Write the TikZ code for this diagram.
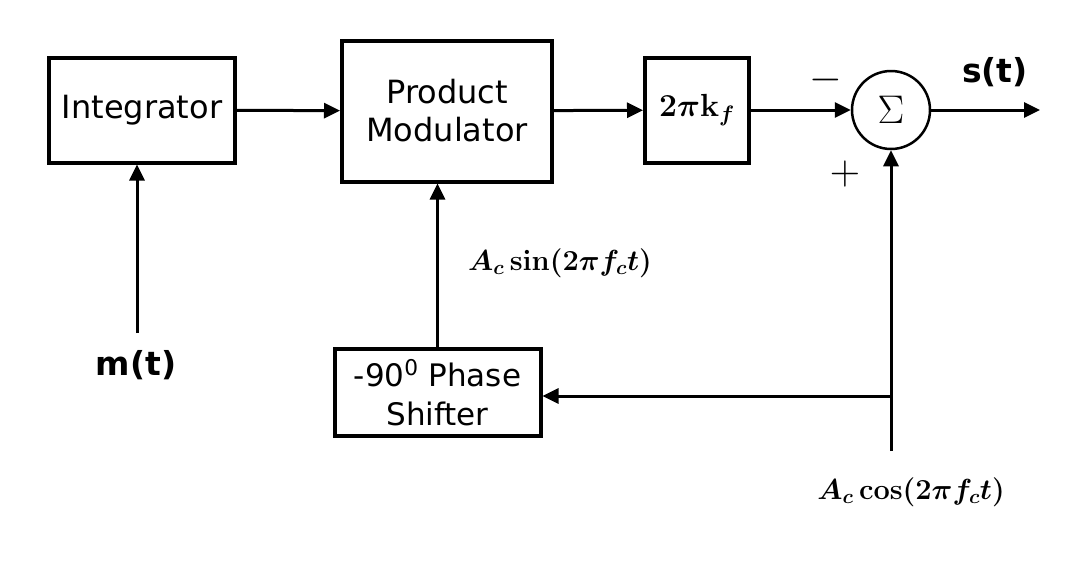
\RequirePackage{fix-cm}
\documentclass[tikz,border=0pt]{standalone}
\usepackage{amsmath}
\usepackage[no-math]{fontspec}
\setmainfont{DejaVu Sans}
\usetikzlibrary{arrows.meta}

\begin{document}
\begin{tikzpicture}[x=1pt, y=-1pt,
    block/.style={draw, line width=4pt, inner sep=0pt, align=center,
                  font=\fontsize{32}{38}\selectfont},
    sig/.style={line width=3pt, -{Triangle[length=16pt,width=15pt]}},
    wire/.style={line width=3pt}]
    \useasboundingbox (0, 0) rectangle (1078, 560);

    % Integrator and product modulator
    \node [block, minimum width=186pt, minimum height=105pt] (integ) at (142, 110) {Integrator};
    \node [block, minimum width=210pt, minimum height=141pt] (prodmod) at (447, 111) {Product\\Modulator};

    % 2 pi k_f
    \node [block, minimum width=104pt, minimum height=105pt,
           font=\fontsize{32}{36}\selectfont] (gain) at (697, 110) {$\boldsymbol{2\pi\mathrm{k}_f}$};

    % Summer
    \node [draw, circle, line width=2.5pt, minimum size=78pt, inner sep=0pt,
           font=\fontsize{40}{44}\selectfont] (sum) at (891, 110) {$\Sigma$};
    \node [font=\fontsize{42}{44}\selectfont] (minus) at (826, 80) {$-$};
    \node [font=\fontsize{42}{44}\selectfont] (plus) at (845, 174) {$+$};

    % Phase shifter
    \node [block, minimum width=206pt, minimum height=87pt,
           font=\fontsize{31}{39}\selectfont] (shift) at (437.5, 392.5) {-90\textsuperscript{0} Phase\\Shifter};

    % Free ends
    \coordinate (min) at (137, 333);
    \coordinate (sout) at (1040, 110);
    \coordinate (cin) at (891, 451);
    \coordinate (tap) at (891, 396);

    % Edges
    \draw [sig] (integ) -- (prodmod);
    \draw [sig] (prodmod) -- (gain);
    \draw [sig] (gain) -- (sum);
    \draw [sig] (sum) -- (sout);
    \draw [sig] (min) -- (min |- integ.south);
    \draw [sig] (shift.north) -- (shift.north |- prodmod.south);
    \draw [sig] (cin) -- (sum.south);
    \draw [sig] (tap) -- (shift.east |- tap);

    % Labels
    \node [font=\bfseries\fontsize{33}{38}\selectfont] (lblm) at (136, 365) {m(t)};
    \node [font=\bfseries\fontsize{33}{38}\selectfont] (lbls) at (995, 72) {s(t)};
    \node [font=\fontsize{29}{34}\selectfont] (lblsin) at (560, 263) {$\boldsymbol{A_c \sin(2\pi f_c t)}$};
    \node [font=\fontsize{29}{34}\selectfont] (lblcos) at (911, 492) {$\boldsymbol{A_c \cos(2\pi f_c t)}$};
\end{tikzpicture}
\end{document}
